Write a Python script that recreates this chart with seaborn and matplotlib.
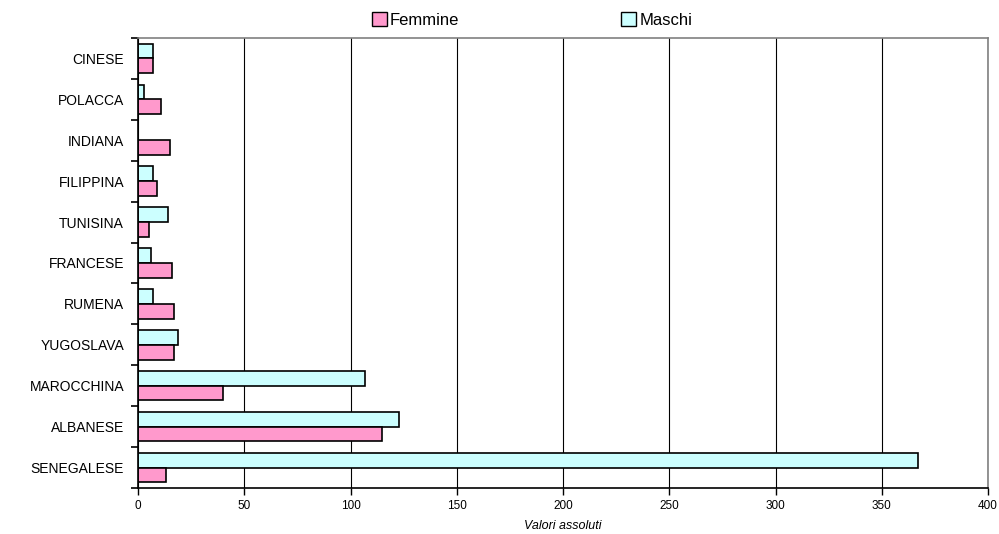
import numpy as np
import pandas as pd
import matplotlib
matplotlib.use("Agg")
import matplotlib.pyplot as plt
import seaborn as sns
from matplotlib.patches import Patch

# data (top to bottom)
nazionalita = ["CINESE", "POLACCA", "INDIANA", "FILIPPINA", "TUNISINA", "FRANCESE",
               "RUMENA", "YUGOSLAVA", "MAROCCHINA", "ALBANESE", "SENEGALESE"]
maschi = [7, 3, 0, 7, 14, 6, 7, 19, 107, 123, 367]
femmine = [7, 11, 15, 9, 5, 16, 17, 17, 40, 115, 13]

col_f = "#FF99CC"
col_m = "#CCFFFF"

df = pd.DataFrame({
    "naz": nazionalita * 2,
    "val": maschi + femmine,
    "sesso": ["Maschi"] * len(maschi) + ["Femmine"] * len(femmine),
})

sns.set_style("white")
plt.rcParams["font.family"] = ["Liberation Sans", "DejaVu Sans"]
plt.rcParams["text.color"] = "black"
plt.rcParams["xtick.color"] = "black"
plt.rcParams["ytick.color"] = "black"
plt.rcParams["axes.labelcolor"] = "black"

fig = plt.figure(figsize=(9.99, 5.34), dpi=100)
ax = fig.add_axes([138 / 999, 1 - 488 / 534, 850 / 999, 450 / 534])

sns.barplot(data=df, x="val", y="naz", hue="sesso", order=nazionalita,
            hue_order=["Maschi", "Femmine"], palette=[col_m, col_f],
            orient="h", width=0.72, edgecolor="black", linewidth=1.2,
            saturation=1, legend=False, ax=ax)

ax.set_xlim(0, 400)
ax.set_ylim(len(nazionalita) - 0.5, -0.5)
ax.set_xticks(np.arange(0, 401, 50))
ax.xaxis.grid(True, color="black", linewidth=0.8)
ax.set_axisbelow(True)

# category tick marks between the groups, as in the original
ax.set_yticks(np.arange(-0.5, len(nazionalita), 1), minor=True)
ax.tick_params(axis="y", which="major", length=0, labelsize=10, pad=10)
ax.tick_params(axis="y", which="minor", length=5, width=1.2, color="black", direction="out", left=True)
ax.tick_params(axis="x", which="major", length=5, width=1, color="black", direction="out",
               bottom=True, labelsize=8.5)

ax.set_ylabel("")
ax.set_xlabel("Valori assoluti", fontsize=9, style="italic", labelpad=6)

for s in ["left", "bottom"]:
    ax.spines[s].set_color("black")
    ax.spines[s].set_linewidth(1.2)
for s in ["top", "right"]:
    ax.spines[s].set_color("#808080")
    ax.spines[s].set_linewidth(1.2)

handles = [Patch(facecolor=col_f, edgecolor="black", label="Femmine"),
           Patch(facecolor=col_m, edgecolor="black", label="Maschi")]
fig.legend(handles=handles, loc="center", bbox_to_anchor=(532 / 999, 1 - 20 / 534),
           ncol=2, frameon=False, fontsize=12, columnspacing=9.7,
           handlelength=0.9, handleheight=0.9, handletextpad=0.2)

fig.savefig("out.png", dpi=100)
